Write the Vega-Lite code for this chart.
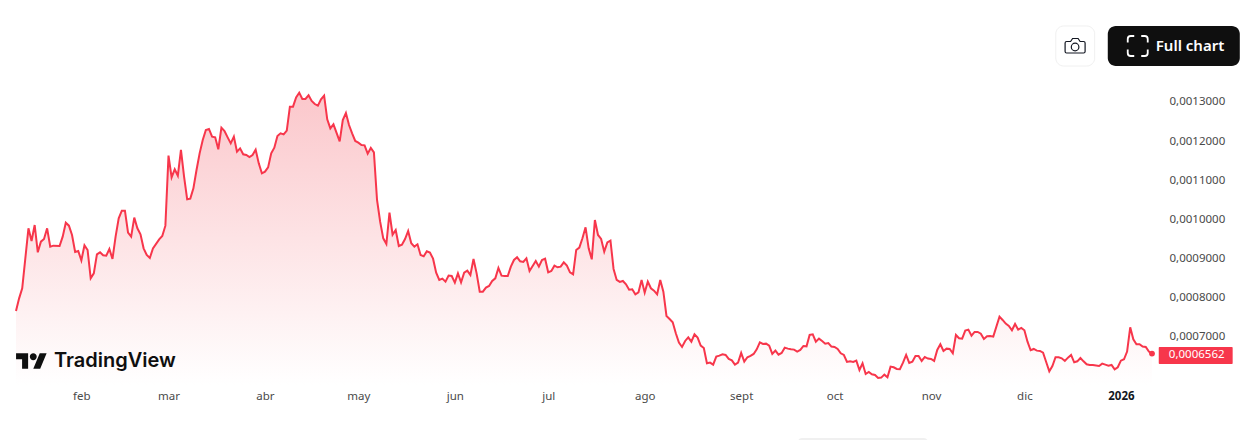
{
  "$schema": "https://vega.github.io/schema/vega-lite/v6.json",
  "width": 1136,
  "height": 385,
  "padding": {"left": 16, "top": 0, "right": 105, "bottom": 55},
  "autosize": {"type": "none"},
  "background": "#ffffff",
  "config": {"view": {"stroke": null}, "font": "Noto Sans"},
  "datasets": {
    "blank": [{}],
    "last": [{"d": "2026-01-11", "v": 0.0006562}],
    "price": [
      {"d":"2025-01-11","v":0.0007653},{"d":"2025-01-12","v":0.0007976},{"d":"2025-01-13","v":0.0008232},{"d":"2025-01-15","v":0.0009767},{"d":"2025-01-16","v":0.0009443},{"d":"2025-01-17","v":0.0009852},{"d":"2025-01-18","v":0.0009153},{"d":"2025-01-19","v":0.0009426},{"d":"2025-01-20","v":0.0009494},{"d":"2025-01-21","v":0.0009767},{"d":"2025-01-22","v":0.0009298},{"d":"2025-01-23","v":0.0009324},{"d":"2025-01-25","v":0.0009315},{"d":"2025-01-26","v":0.0009554},{"d":"2025-01-27","v":0.0009912},{"d":"2025-01-28","v":0.0009835},{"d":"2025-01-29","v":0.0009596},{"d":"2025-01-30","v":0.0009162},{"d":"2025-01-31","v":0.0009187},
      {"d":"2025-02-01","v":0.0008948},{"d":"2025-02-02","v":0.0009332},{"d":"2025-02-03","v":0.0009213},{"d":"2025-02-04","v":0.0008488},{"d":"2025-02-05","v":0.0008616},{"d":"2025-02-06","v":0.0009102},{"d":"2025-02-07","v":0.0009153},{"d":"2025-02-08","v":0.0009076},{"d":"2025-02-09","v":0.0009068},{"d":"2025-02-10","v":0.0009238},{"d":"2025-02-11","v":0.0008983},{"d":"2025-02-12","v":0.0009554},{"d":"2025-02-13","v":0.0010023},{"d":"2025-02-14","v":0.0010219},{"d":"2025-02-15","v":0.0010219},{"d":"2025-02-16","v":0.0009656},{"d":"2025-02-17","v":0.0009554},{"d":"2025-02-18","v":0.0010040},{"d":"2025-02-19","v":0.0009767},{"d":"2025-02-20","v":0.0009613},{"d":"2025-02-21","v":0.0009255},{"d":"2025-02-22","v":0.0009085},{"d":"2025-02-23","v":0.0009008},{"d":"2025-02-24","v":0.0009255},{"d":"2025-02-26","v":0.0009486},{"d":"2025-02-27","v":0.0009571},{"d":"2025-02-28","v":0.0009835},
      {"d":"2025-03-01","v":0.0011626},{"d":"2025-03-02","v":0.0011071},{"d":"2025-03-03","v":0.0011276},{"d":"2025-03-04","v":0.0011114},{"d":"2025-03-05","v":0.0011771},{"d":"2025-03-06","v":0.0011088},{"d":"2025-03-07","v":0.0010509},{"d":"2025-03-08","v":0.0010526},{"d":"2025-03-09","v":0.0010790},{"d":"2025-03-10","v":0.0011259},{"d":"2025-03-11","v":0.0011685},{"d":"2025-03-12","v":0.0012026},{"d":"2025-03-13","v":0.0012282},{"d":"2025-03-14","v":0.0012308},{"d":"2025-03-15","v":0.0012112},{"d":"2025-03-16","v":0.0012095},{"d":"2025-03-17","v":0.0011788},{"d":"2025-03-18","v":0.0012342},{"d":"2025-03-19","v":0.0012257},{"d":"2025-03-20","v":0.0012095},{"d":"2025-03-21","v":0.0011941},{"d":"2025-03-22","v":0.0012112},{"d":"2025-03-23","v":0.0011728},{"d":"2025-03-24","v":0.0011813},{"d":"2025-03-25","v":0.0011660},{"d":"2025-03-26","v":0.0011643},{"d":"2025-03-27","v":0.0011591},{"d":"2025-03-28","v":0.0011643},{"d":"2025-03-29","v":0.0011779},{"d":"2025-03-30","v":0.0011429},{"d":"2025-03-31","v":0.0011174},
      {"d":"2025-04-01","v":0.0011216},{"d":"2025-04-02","v":0.0011327},{"d":"2025-04-03","v":0.0011685},{"d":"2025-04-04","v":0.0011830},{"d":"2025-04-05","v":0.0012129},{"d":"2025-04-06","v":0.0012197},{"d":"2025-04-07","v":0.0012171},{"d":"2025-04-08","v":0.0012265},{"d":"2025-04-09","v":0.0012879},{"d":"2025-04-10","v":0.0012879},{"d":"2025-04-11","v":0.0013118},{"d":"2025-04-12","v":0.0013237},{"d":"2025-04-13","v":0.0013075},{"d":"2025-04-14","v":0.0013075},{"d":"2025-04-15","v":0.0013169},{"d":"2025-04-16","v":0.0013024},{"d":"2025-04-17","v":0.0012947},{"d":"2025-04-18","v":0.0012905},{"d":"2025-04-19","v":0.0013066},{"d":"2025-04-20","v":0.0013160},{"d":"2025-04-21","v":0.0012555},{"d":"2025-04-22","v":0.0012325},{"d":"2025-04-23","v":0.0012427},{"d":"2025-04-25","v":0.0011992},{"d":"2025-04-26","v":0.0012538},{"d":"2025-04-27","v":0.0012717},{"d":"2025-04-28","v":0.0012410},{"d":"2025-04-29","v":0.0012197},{"d":"2025-04-30","v":0.0012001},
      {"d":"2025-05-01","v":0.0011958},{"d":"2025-05-02","v":0.0011898},{"d":"2025-05-03","v":0.0011890},{"d":"2025-05-04","v":0.0011677},{"d":"2025-05-05","v":0.0011822},{"d":"2025-05-06","v":0.0011711},{"d":"2025-05-07","v":0.0010492},{"d":"2025-05-08","v":0.0009937},{"d":"2025-05-09","v":0.0009511},{"d":"2025-05-10","v":0.0009366},{"d":"2025-05-11","v":0.0010168},{"d":"2025-05-12","v":0.0009605},{"d":"2025-05-13","v":0.0009725},{"d":"2025-05-14","v":0.0009315},{"d":"2025-05-15","v":0.0009350},{"d":"2025-05-16","v":0.0009494},{"d":"2025-05-17","v":0.0009699},{"d":"2025-05-18","v":0.0009384},{"d":"2025-05-19","v":0.0009298},{"d":"2025-05-20","v":0.0009358},{"d":"2025-05-21","v":0.0009085},{"d":"2025-05-22","v":0.0009051},{"d":"2025-05-23","v":0.0009179},{"d":"2025-05-24","v":0.0009145},{"d":"2025-05-25","v":0.0008991},{"d":"2025-05-26","v":0.0008633},{"d":"2025-05-27","v":0.0008446},{"d":"2025-05-28","v":0.0008480},{"d":"2025-05-29","v":0.0008403},{"d":"2025-05-30","v":0.0008557},{"d":"2025-05-31","v":0.0008548},
      {"d":"2025-06-01","v":0.0008378},{"d":"2025-06-02","v":0.0008616},{"d":"2025-06-03","v":0.0008386},{"d":"2025-06-04","v":0.0008633},{"d":"2025-06-05","v":0.0008684},{"d":"2025-06-06","v":0.0008574},{"d":"2025-06-07","v":0.0008983},{"d":"2025-06-08","v":0.0008616},{"d":"2025-06-09","v":0.0008147},{"d":"2025-06-10","v":0.0008147},{"d":"2025-06-11","v":0.0008250},{"d":"2025-06-12","v":0.0008292},{"d":"2025-06-13","v":0.0008420},{"d":"2025-06-14","v":0.0008488},{"d":"2025-06-15","v":0.0008753},{"d":"2025-06-16","v":0.0008557},{"d":"2025-06-17","v":0.0008548},{"d":"2025-06-18","v":0.0008548},{"d":"2025-06-19","v":0.0008787},{"d":"2025-06-20","v":0.0008957},{"d":"2025-06-21","v":0.0009026},{"d":"2025-06-22","v":0.0008923},{"d":"2025-06-23","v":0.0008906},{"d":"2025-06-24","v":0.0009000},{"d":"2025-06-25","v":0.0008676},{"d":"2025-06-26","v":0.0008804},{"d":"2025-06-27","v":0.0008932},{"d":"2025-06-28","v":0.0008787},{"d":"2025-06-29","v":0.0008957},{"d":"2025-06-30","v":0.0008991},
      {"d":"2025-07-01","v":0.0008642},{"d":"2025-07-02","v":0.0008676},{"d":"2025-07-03","v":0.0008812},{"d":"2025-07-04","v":0.0008770},{"d":"2025-07-05","v":0.0008787},{"d":"2025-07-06","v":0.0008898},{"d":"2025-07-07","v":0.0008812},{"d":"2025-07-08","v":0.0008642},{"d":"2025-07-09","v":0.0008591},{"d":"2025-07-10","v":0.0009213},{"d":"2025-07-11","v":0.0009273},{"d":"2025-07-12","v":0.0009512},{"d":"2025-07-13","v":0.0009793},{"d":"2025-07-14","v":0.0009256},{"d":"2025-07-15","v":0.0008974},{"d":"2025-07-16","v":0.0009980},{"d":"2025-07-17","v":0.0009597},{"d":"2025-07-18","v":0.0009494},{"d":"2025-07-19","v":0.0009170},{"d":"2025-07-20","v":0.0009409},{"d":"2025-07-21","v":0.0009452},{"d":"2025-07-22","v":0.0008727},{"d":"2025-07-23","v":0.0008446},{"d":"2025-07-24","v":0.0008395},{"d":"2025-07-25","v":0.0008420},{"d":"2025-07-26","v":0.0008335},{"d":"2025-07-27","v":0.0008198},{"d":"2025-07-28","v":0.0008207},{"d":"2025-07-29","v":0.0008079},{"d":"2025-07-30","v":0.0008130},{"d":"2025-07-31","v":0.0008446},
      {"d":"2025-08-01","v":0.0008122},{"d":"2025-08-02","v":0.0008403},{"d":"2025-08-03","v":0.0008233},{"d":"2025-08-04","v":0.0008173},{"d":"2025-08-05","v":0.0008079},{"d":"2025-08-06","v":0.0008446},{"d":"2025-08-07","v":0.0008147},{"d":"2025-08-08","v":0.0007525},{"d":"2025-08-09","v":0.0007448},{"d":"2025-08-10","v":0.0007363},{"d":"2025-08-11","v":0.0007082},{"d":"2025-08-12","v":0.0006843},{"d":"2025-08-13","v":0.0006732},{"d":"2025-08-14","v":0.0006886},{"d":"2025-08-15","v":0.0006979},{"d":"2025-08-16","v":0.0006868},{"d":"2025-08-17","v":0.0007056},{"d":"2025-08-18","v":0.0006971},{"d":"2025-08-19","v":0.0006766},{"d":"2025-08-20","v":0.0006706},{"d":"2025-08-21","v":0.0006314},{"d":"2025-08-22","v":0.0006331},{"d":"2025-08-23","v":0.0006280},{"d":"2025-08-24","v":0.0006485},{"d":"2025-08-25","v":0.0006510},{"d":"2025-08-26","v":0.0006544},{"d":"2025-08-27","v":0.0006527},{"d":"2025-08-28","v":0.0006425},{"d":"2025-08-29","v":0.0006391},{"d":"2025-08-30","v":0.0006280},{"d":"2025-08-31","v":0.0006331},
      {"d":"2025-09-01","v":0.0006579},{"d":"2025-09-02","v":0.0006357},{"d":"2025-09-03","v":0.0006468},{"d":"2025-09-04","v":0.0006502},{"d":"2025-09-05","v":0.0006553},{"d":"2025-09-06","v":0.0006672},{"d":"2025-09-07","v":0.0006851},{"d":"2025-09-08","v":0.0006809},{"d":"2025-09-09","v":0.0006817},{"d":"2025-09-10","v":0.0006766},{"d":"2025-09-11","v":0.0006553},{"d":"2025-09-12","v":0.0006638},{"d":"2025-09-13","v":0.0006536},{"d":"2025-09-14","v":0.0006579},{"d":"2025-09-15","v":0.0006715},{"d":"2025-09-16","v":0.0006689},{"d":"2025-09-17","v":0.0006672},{"d":"2025-09-18","v":0.0006664},{"d":"2025-09-19","v":0.0006613},{"d":"2025-09-20","v":0.0006655},{"d":"2025-09-21","v":0.0006758},{"d":"2025-09-22","v":0.0006749},{"d":"2025-09-23","v":0.0007039},{"d":"2025-09-24","v":0.0007056},{"d":"2025-09-25","v":0.0006868},{"d":"2025-09-26","v":0.0006945},{"d":"2025-09-27","v":0.0006886},{"d":"2025-09-28","v":0.0006817},{"d":"2025-09-29","v":0.0006834},{"d":"2025-09-30","v":0.0006741},
      {"d":"2025-10-01","v":0.0006732},{"d":"2025-10-02","v":0.0006681},{"d":"2025-10-03","v":0.0006570},{"d":"2025-10-04","v":0.0006527},{"d":"2025-10-05","v":0.0006348},{"d":"2025-10-06","v":0.0006365},{"d":"2025-10-07","v":0.0006348},{"d":"2025-10-08","v":0.0006382},{"d":"2025-10-09","v":0.0006144},{"d":"2025-10-10","v":0.0006314},{"d":"2025-10-11","v":0.0006041},{"d":"2025-10-12","v":0.0006093},{"d":"2025-10-13","v":0.0006033},{"d":"2025-10-14","v":0.0006016},{"d":"2025-10-15","v":0.0005939},{"d":"2025-10-16","v":0.0005948},{"d":"2025-10-17","v":0.0006024},{"d":"2025-10-18","v":0.0005956},{"d":"2025-10-19","v":0.0006229},{"d":"2025-10-20","v":0.0006212},{"d":"2025-10-21","v":0.0006169},{"d":"2025-10-22","v":0.0006161},{"d":"2025-10-23","v":0.0006331},{"d":"2025-10-24","v":0.0006527},{"d":"2025-10-25","v":0.0006323},{"d":"2025-10-26","v":0.0006357},{"d":"2025-10-27","v":0.0006502},{"d":"2025-10-28","v":0.0006502},{"d":"2025-10-29","v":0.0006374},{"d":"2025-10-30","v":0.0006476},{"d":"2025-10-31","v":0.0006434},
      {"d":"2025-11-01","v":0.0006425},{"d":"2025-11-02","v":0.0006374},{"d":"2025-11-03","v":0.0006655},{"d":"2025-11-04","v":0.0006800},{"d":"2025-11-05","v":0.0006630},{"d":"2025-11-06","v":0.0006689},{"d":"2025-11-07","v":0.0006681},{"d":"2025-11-08","v":0.0006570},{"d":"2025-11-09","v":0.0007039},{"d":"2025-11-10","v":0.0006954},{"d":"2025-11-11","v":0.0006945},{"d":"2025-11-12","v":0.0007150},{"d":"2025-11-13","v":0.0007175},{"d":"2025-11-14","v":0.0007022},{"d":"2025-11-15","v":0.0007116},{"d":"2025-11-16","v":0.0007116},{"d":"2025-11-17","v":0.0007073},{"d":"2025-11-18","v":0.0006937},{"d":"2025-11-19","v":0.0007005},{"d":"2025-11-20","v":0.0007013},{"d":"2025-11-21","v":0.0006996},{"d":"2025-11-23","v":0.0007508},{"d":"2025-11-24","v":0.0007423},{"d":"2025-11-25","v":0.0007329},{"d":"2025-11-26","v":0.0007269},{"d":"2025-11-27","v":0.0007158},{"d":"2025-11-28","v":0.0007320},{"d":"2025-11-29","v":0.0007175},{"d":"2025-11-30","v":0.0007218},
      {"d":"2025-12-01","v":0.0007158},{"d":"2025-12-02","v":0.0006868},{"d":"2025-12-03","v":0.0006647},{"d":"2025-12-04","v":0.0006681},{"d":"2025-12-05","v":0.0006638},{"d":"2025-12-06","v":0.0006630},{"d":"2025-12-07","v":0.0006587},{"d":"2025-12-08","v":0.0006348},{"d":"2025-12-09","v":0.0006110},{"d":"2025-12-10","v":0.0006246},{"d":"2025-12-11","v":0.0006468},{"d":"2025-12-12","v":0.0006468},{"d":"2025-12-13","v":0.0006442},{"d":"2025-12-14","v":0.0006374},{"d":"2025-12-15","v":0.0006459},{"d":"2025-12-16","v":0.0006527},{"d":"2025-12-17","v":0.0006340},{"d":"2025-12-18","v":0.0006365},{"d":"2025-12-19","v":0.0006451},{"d":"2025-12-20","v":0.0006365},{"d":"2025-12-21","v":0.0006289},{"d":"2025-12-22","v":0.0006272},{"d":"2025-12-23","v":0.0006272},{"d":"2025-12-25","v":0.0006246},{"d":"2025-12-26","v":0.0006306},{"d":"2025-12-27","v":0.0006280},{"d":"2025-12-28","v":0.0006255},{"d":"2025-12-29","v":0.0006272},{"d":"2025-12-30","v":0.0006161},{"d":"2025-12-31","v":0.0006212},
      {"d":"2026-01-01","v":0.0006382},{"d":"2026-01-02","v":0.0006417},{"d":"2026-01-03","v":0.0006613},{"d":"2026-01-04","v":0.0007235},{"d":"2026-01-05","v":0.0006928},{"d":"2026-01-06","v":0.0006800},{"d":"2026-01-07","v":0.0006800},{"d":"2026-01-08","v":0.0006741},{"d":"2026-01-09","v":0.0006732},{"d":"2026-01-10","v":0.0006613},{"d":"2026-01-11","v":0.0006562}
    ]
  },
  "layer": [
    {
      "data": {"name": "price"},
      "mark": {
        "type": "area",
        "color": {
          "gradient": "linear", "x1": 1, "y1": 1, "x2": 1, "y2": 0,
          "stops": [{"offset": 0, "color": "#ffffff"}, {"offset": 1, "color": "#fbc7cb"}]
        }
      },
      "encoding": {
        "x": {
          "field": "d", "type": "temporal", "title": null,
          "scale": {
            "type": "utc",
            "domain": [{"year": 2025, "month": 1, "date": 11, "utc": true}, {"year": 2026, "month": 1, "date": 11, "utc": true}],
            "nice": false
          },
          "axis": {
            "values": [
              {"year": 2025, "month": 2, "date": 1, "utc": true}, {"year": 2025, "month": 3, "date": 1, "utc": true},
              {"year": 2025, "month": 4, "date": 1, "utc": true}, {"year": 2025, "month": 5, "date": 1, "utc": true},
              {"year": 2025, "month": 6, "date": 1, "utc": true}, {"year": 2025, "month": 7, "date": 1, "utc": true},
              {"year": 2025, "month": 8, "date": 1, "utc": true}, {"year": 2025, "month": 9, "date": 1, "utc": true},
              {"year": 2025, "month": 10, "date": 1, "utc": true}, {"year": 2025, "month": 11, "date": 1, "utc": true},
              {"year": 2025, "month": 12, "date": 1, "utc": true}, {"year": 2026, "month": 1, "date": 1, "utc": true}
            ],
            "labelExpr": "utcmonth(datum.value) == 0 ? '2026' : ['', 'feb', 'mar', 'abr', 'may', 'jun', 'jul', 'ago', 'sept', 'oct', 'nov', 'dic'][utcmonth(datum.value)]",
            "labelFontWeight": {"condition": {"test": "utcmonth(datum.value) == 0", "value": "bold"}, "value": "normal"},
            "labelColor": {"condition": {"test": "utcmonth(datum.value) == 0", "value": "#131722"}, "value": "#4a4a4a"},
            "labelFontSize": 11.5,
            "labelPadding": 5,
            "labelOverlap": false,
            "labelFlush": false,
            "labelBound": false,
            "grid": false,
            "ticks": false,
            "domain": false,
            "zindex": 1
          }
        },
        "y": {
          "field": "v", "type": "quantitative", "title": null,
          "scale": {"domain": [0.0005759, 0.0015608], "zero": false, "nice": false},
          "axis": {
            "orient": "right",
            "values": [0.0007, 0.0008, 0.0009, 0.001, 0.0011, 0.0012, 0.0013],
            "labelExpr": "replace(format(datum.value, '.7f'), '.', ',')",
            "labelFontSize": 11.5,
            "labelColor": "#4a4a4a",
            "labelPadding": 17,
            "labelOverlap": false,
            "labelBound": false,
            "grid": false,
            "ticks": false,
            "domain": false
          }
        },
        "y2": {"datum": 0.0005759}
      }
    },
    {
      "data": {"name": "price"},
      "mark": {"type": "line", "color": "#f7364b", "strokeWidth": 2, "interpolate": "linear"},
      "encoding": {
        "x": {"field": "d", "type": "temporal"},
        "y": {"field": "v", "type": "quantitative"}
      }
    },
    {
      "data": {"name": "last"},
      "mark": {"type": "point", "filled": true, "color": "#f7364b", "size": 34, "opacity": 1},
      "encoding": {
        "x": {"field": "d", "type": "temporal"},
        "y": {"field": "v", "type": "quantitative"}
      }
    },
    {
      "data": {"name": "blank"},
      "mark": {"type": "rect", "color": "#f7364b", "cornerRadius": 1},
      "encoding": {
        "x": {"datum": {"year": 2026, "month": 1, "date": 13, "hours": 4, "utc": true}, "type": "temporal"},
        "x2": {"datum": {"year": 2026, "month": 2, "date": 5, "hours": 22, "utc": true}},
        "y": {"datum": 0.0006731, "type": "quantitative"},
        "y2": {"datum": 0.0006297}
      }
    },
    {
      "data": {"name": "blank"},
      "mark": {"type": "text", "text": "0,0006562", "color": "#ffffff", "fontSize": 11.5, "align": "left", "baseline": "middle"},
      "encoding": {
        "x": {"datum": {"year": 2026, "month": 1, "date": 16, "hours": 10, "utc": true}, "type": "temporal"},
        "y": {"datum": 0.0006514, "type": "quantitative"}
      }
    },
    {
      "data": {"name": "blank"},
      "mark": {"type": "rect", "color": "#ffffff", "stroke": "#f0f0f0", "strokeWidth": 1, "cornerRadius": 8},
      "encoding": {
        "x": {"datum": {"year": 2025, "month": 12, "date": 11, "hours": 2, "utc": true}, "type": "temporal"},
        "x2": {"datum": {"year": 2025, "month": 12, "date": 23, "hours": 14, "utc": true}},
        "y": {"datum": 0.0014943, "type": "quantitative"},
        "y2": {"datum": 0.0013919}
      }
    },
    {
      "data": {"name": "blank"},
      "mark": {
        "type": "point", "filled": false, "stroke": "#131722", "strokeWidth": 1.2, "opacity": 1, "size": 400,
        "shape": "M-0.85 -0.45H-0.45L-0.25 -0.75H0.3L0.5 -0.45H0.85Q1 -0.45 1 -0.3V0.55Q1 0.7 0.85 0.7H-0.85Q-1 0.7 -1 0.55V-0.3Q-1 -0.45 -0.85 -0.45Z M-0.38 0.1a0.38 0.38 0 1 0 0.76 0a0.38 0.38 0 1 0 -0.76 0Z"
      },
      "encoding": {
        "x": {"datum": {"year": 2025, "month": 12, "date": 17, "hours": 7, "utc": true}, "type": "temporal"},
        "y": {"datum": 0.0014431, "type": "quantitative"}
      }
    },
    {
      "data": {"name": "blank"},
      "mark": {"type": "rect", "color": "#0f0f0f", "cornerRadius": 8},
      "encoding": {
        "x": {"datum": {"year": 2025, "month": 12, "date": 27, "hours": 19, "utc": true}, "type": "temporal"},
        "x2": {"datum": {"year": 2026, "month": 2, "date": 8, "hours": 5, "utc": true}},
        "y": {"datum": 0.0014943, "type": "quantitative"},
        "y2": {"datum": 0.0013919}
      }
    },
    {
      "data": {"name": "blank"},
      "mark": {
        "type": "point", "filled": false, "stroke": "#ffffff", "strokeWidth": 1.8, "opacity": 1, "size": 400,
        "shape": "M-0.35 -1H-0.7Q-1 -1 -1 -0.7V-0.35 M0.35 -1H0.7Q1 -1 1 -0.7V-0.35 M1 0.35V0.7Q1 1 0.7 1H0.35 M-0.35 1H-0.7Q-1 1 -1 0.7V0.35"
      },
      "encoding": {
        "x": {"datum": {"year": 2026, "month": 1, "date": 6, "hours": 10, "utc": true}, "type": "temporal"},
        "y": {"datum": 0.0014431, "type": "quantitative"}
      }
    },
    {
      "data": {"name": "blank"},
      "mark": {"type": "text", "text": "Full chart", "color": "#ffffff", "fontSize": 15, "fontWeight": 600, "align": "left", "baseline": "middle"},
      "encoding": {
        "x": {"datum": {"year": 2026, "month": 1, "date": 12, "hours": 5, "utc": true}, "type": "temporal"},
        "y": {"datum": 0.0014431, "type": "quantitative"}
      }
    },
    {
      "data": {"name": "blank"},
      "mark": {
        "type": "point", "filled": true, "color": "#0f0f0f", "opacity": 1, "size": 961,
        "shape": "M-1 -0.5H-0.222V0.5H-0.611V-0.111H-1Z M0.111 0.5L0.528 -0.5H0.972L0.556 0.5Z M-0.111 -0.278a0.222 0.222 0 1 0 0.444 0a0.222 0.222 0 1 0 -0.444 0Z"
      },
      "encoding": {
        "x": {"datum": {"year": 2025, "month": 1, "date": 16, "utc": true}, "type": "temporal"},
        "y": {"datum": 0.0006373, "type": "quantitative"}
      }
    },
    {
      "data": {"name": "blank"},
      "mark": {"type": "text", "text": "TradingView", "color": "#0f0f0f", "font": "Inter", "fontSize": 20, "fontWeight": 600, "align": "left", "baseline": "middle"},
      "encoding": {
        "x": {"datum": {"year": 2025, "month": 1, "date": 23, "hours": 5, "utc": true}, "type": "temporal"},
        "y": {"datum": 0.0006373, "type": "quantitative"}
      }
    },
    {
      "data": {"name": "blank"},
      "mark": {"type": "rect", "color": "#f0f0f0", "cornerRadius": 6},
      "encoding": {
        "x": {"datum": {"year": 2025, "month": 9, "date": 19, "hours": 5, "utc": true}, "type": "temporal"},
        "x2": {"datum": {"year": 2025, "month": 10, "date": 31, "utc": true}},
        "y": {"datum": 0.0004404, "type": "quantitative"},
        "y2": {"datum": 0.0004199}
      }
    }
  ]
}
